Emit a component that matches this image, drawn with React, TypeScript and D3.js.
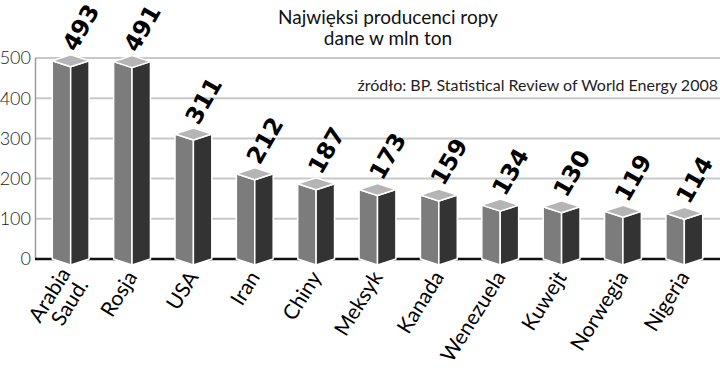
import * as d3 from "d3";

const countries = ["Arabia Saud.", "Rosja", "USA", "Iran", "Chiny", "Meksyk", "Kanada", "Wenezuela", "Kuwejt", "Norwegia", "Nigeria"];
const labelLines = [["Arabia", "Saud."], ["Rosja"], ["USA"], ["Iran"], ["Chiny"], ["Meksyk"], ["Kanada"], ["Wenezuela"], ["Kuwejt"], ["Norwegia"], ["Nigeria"]];
const production = [493, 491, 311, 212, 187, 173, 159, 134, 130, 119, 114];
const yTicks = [0, 100, 200, 300, 400, 500];

const W = 720;
const H = 368;

export default function App() {
  const x = d3.scalePoint<string>().domain(countries).range([40, 715]).padding(0.5);
  const y = d3.scaleLinear().domain([0, 500]).range([259, 58]);
  const hw = x.step() * 0.3;
  const depth = 6;
  const base = y(0);

  return (
    <svg width={W} height={H} style={{ position: "absolute", left: 0, top: 0, background: "#fff" }}>
      {/* title */}
      <g fontFamily="Lato, sans-serif" fill="#111" textAnchor="middle" fontSize={19}>
        <text x={388} y={24}>Najwięksi producenci ropy</text>
        <text x={388} y={45}>dane w mln ton</text>
      </g>

      {/* grid */}
      {yTicks.map((t) => (
        <line key={t} x1={35} x2={W} y1={y(t)} y2={y(t)} stroke="#c8c8c8" strokeWidth={2} />
      ))}
      <line x1={35.5} x2={35.5} y1={y(500)} y2={base} stroke="#9a9a9a" strokeWidth={1.5} />
      <line x1={35} x2={W} y1={base} y2={base} stroke="#111" strokeWidth={2.5} />

      <text x={718} y={91} textAnchor="end" fontFamily="Lato, sans-serif" fontSize={16} fill="#222">
        źródło: BP. Statistical Review of World Energy 2008
      </text>

      {yTicks.map((t) => (
        <text key={t} x={31} y={y(t)} dy="0.35em" textAnchor="end" fontFamily="Lato, sans-serif" fontWeight={300} fontSize={18} fill="#222">
          {t}
        </text>
      ))}

      {countries.map((c, i) => {
        const cx = x(c) ?? 0;
        const top = y(production[i]);
        const left = `${cx - hw},${top} ${cx},${top + depth} ${cx},${base + depth} ${cx - hw},${base}`;
        const right = `${cx},${top + depth} ${cx + hw},${top} ${cx + hw},${base} ${cx},${base + depth}`;
        const lid = `${cx - hw},${top} ${cx},${top - depth} ${cx + hw},${top} ${cx},${top + depth}`;
        return (
          <g key={c} stroke="#fff" strokeWidth={1.5} strokeLinejoin="round">
            <polygon points={left} fill="#7c7c7c" />
            <polygon points={right} fill="#333" />
            <polygon points={lid} fill="#b5b5b5" />
          </g>
        );
      })}

      {countries.map((c, i) => {
        const cx = x(c) ?? 0;
        const top = y(production[i]);
        return (
          <text
            key={c}
            transform={`translate(${cx + 5},${top - 8}) rotate(-60)`}
            fontFamily="'DejaVu Sans', sans-serif"
            fontWeight="bold"
            fontSize={23.5}
            fill="#000"
          >
            {production[i]}
          </text>
        );
      })}

      {countries.map((c, i) => {
        const cx = x(c) ?? 0;
        const lines = labelLines[i];
        return (
          <text
            key={c}
            transform={`translate(${cx + 6},${base + 18}) rotate(-58)`}
            textAnchor="end"
            fontFamily="Lato, sans-serif"
            fontSize={21}
            fill="#000"
          >
            {lines.map((l, j) => (
              <tspan key={l} x={0} dy={j === 0 ? (lines.length > 1 ? "-0.3em" : 0) : "1.0em"}>
                {l}
              </tspan>
            ))}
          </text>
        );
      })}
    </svg>
  );
}
